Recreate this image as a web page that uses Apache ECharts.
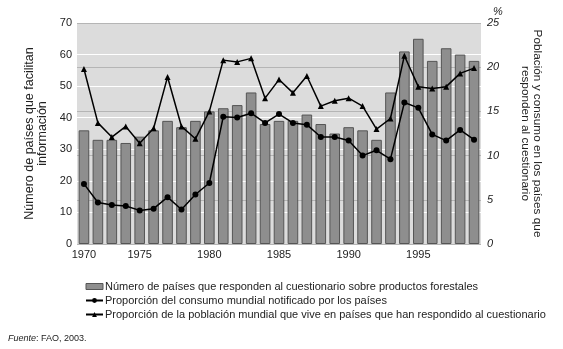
<!DOCTYPE html>
<html>
<head>
<meta charset="utf-8">
<script src="https://cdn.jsdelivr.net/npm/echarts@6/dist/echarts.min.js"></script>
<style>
html,body{margin:0;padding:0;background:#fff;}
#c{width:563px;height:349px;}
</style>
</head>
<body>
<div id="c"></div>
<script>
// Years shown along the horizontal axis (one bar per year)
const years = ['1970','1971','1972','1973','1974','1975','1976','1977','1978','1979',
  '1980','1981','1982','1983','1984','1985','1986','1987','1988','1989',
  '1990','1991','1992','1993','1994','1995','1996','1997','1998'];
// Tick labels as printed under the bars
const xTickLabels = ['1970','','','','1975','','','','','1980','','','','','1985','','','','','1990','','','','','1995','','','',''];
// Number of countries responding (left axis)
const countries = [36,33,33,32,34,36,39,37,39,42,43,44,48,38,39,39,41,38,35,37,36,33,48,61,65,58,62,60,58];
// Share of world consumption reported (%, right axis)
const consumption = [6.8,4.7,4.4,4.3,3.8,4.0,5.3,3.9,5.6,6.9,14.4,14.3,14.8,13.7,14.7,13.7,13.5,12.1,12.1,11.7,10.0,10.6,9.6,16.0,15.4,12.4,11.7,12.9,11.8];
// Share of world population in responding countries (%, right axis)
const population = [19.8,13.7,12.1,13.3,11.4,13.1,18.9,13.3,11.9,15.0,20.8,20.6,21.0,16.5,18.6,17.1,19.0,15.6,16.2,16.5,15.6,13.0,14.2,21.3,17.8,17.6,17.8,19.3,19.9];

const leftTicks = {min:0, max:70, interval:10};
const rightTicks = {min:0, max:25, interval:5};

const names = [
  'Número de países que responden al cuestionario sobre productos forestales',
  'Proporción del consumo mundial notificado por los países',
  'Proporción de la población mundial que vive en países que han respondido al cuestionario'
];

const FONT = '"Liberation Sans", Arial, sans-serif';
const chart = echarts.init(document.getElementById('c'), null, {renderer:'canvas'});
chart.setOption({
  animation:false,
  textStyle:{fontFamily:FONT},
  title:[
    {text:'%', left:488, top:1, textStyle:{fontFamily:FONT, fontSize:11, fontStyle:'italic', fontWeight:'normal', color:'#222'}},
    {text:'{i|Fuente}: FAO, 2003.', left:3, top:329,
     textStyle:{fontFamily:FONT, fontSize:9, fontWeight:'normal', color:'#222',
       rich:{i:{fontFamily:FONT, fontSize:9, fontStyle:'italic', color:'#222'}}}}
  ],
  grid:{left:77, right:82, top:23, bottom:105, show:true, backgroundColor:'#dcdcdc', borderWidth:0},
  legend:{
    orient:'vertical', left:80, top:276, itemGap:3, itemWidth:17, itemHeight:6,
    textStyle:{fontFamily:FONT, fontSize:11, color:'#222', lineHeight:11, padding:[0,0,0,-3]},
    data:[
      {name:names[0], icon:'rect', itemStyle:{color:'#8e8e8e', borderColor:'#555', borderWidth:1}},
      {name:names[1]},
      {name:names[2]}
    ]
  },
  xAxis:{
    type:'category', data:years, boundaryGap:true,
    axisLine:{show:false}, axisTick:{show:false},
    axisLabel:{interval:0, margin:5, fontSize:11, color:'#222', fontFamily:FONT,
      formatter:(v,i)=>xTickLabels[i]}
  },
  yAxis:[
    {type:'value', position:'left', min:leftTicks.min, max:leftTicks.max, interval:leftTicks.interval,
     name:'Número de países que facilitan\ninformación', nameLocation:'middle', nameGap:27, nameRotate:90,
     nameTextStyle:{fontFamily:FONT, fontSize:12.5, color:'#222', lineHeight:12.5},
     axisLine:{show:false}, axisTick:{show:false},
     axisLabel:{fontSize:11, color:'#222', margin:5, fontFamily:FONT},
     splitLine:{show:true, lineStyle:{color:'#ffffff', width:1}}},
    {type:'value', position:'right', min:rightTicks.min, max:rightTicks.max, interval:rightTicks.interval,
     name:'Población y consumo en los países que\nresponden al cuestionario', nameLocation:'middle', nameGap:38, nameRotate:-90,
     nameTextStyle:{fontFamily:FONT, fontSize:11.8, color:'#222', lineHeight:12},
     axisLine:{show:false}, axisTick:{show:false},
     axisLabel:{fontSize:11, color:'#222', margin:6, fontStyle:'italic', fontFamily:FONT},
     splitLine:{show:true, lineStyle:{color:'#b5b5b5', width:1}}}
  ],
  series:[
    {name:names[0], type:'bar', yAxisIndex:0, data:countries, barCategoryGap:'24%',
     itemStyle:{color:'#8e8e8e', borderColor:'#555', borderWidth:1}, z:2},
    {name:names[1], type:'line', yAxisIndex:1, data:consumption, symbol:'circle', symbolSize:6,
     lineStyle:{color:'#000', width:1.5}, itemStyle:{color:'#000'}, z:4},
    {name:names[2], type:'line', yAxisIndex:1, data:population, symbol:'triangle', symbolSize:6,
     lineStyle:{color:'#000', width:1.5}, itemStyle:{color:'#000'}, z:4}
  ]
});
</script>
</body>
</html>
